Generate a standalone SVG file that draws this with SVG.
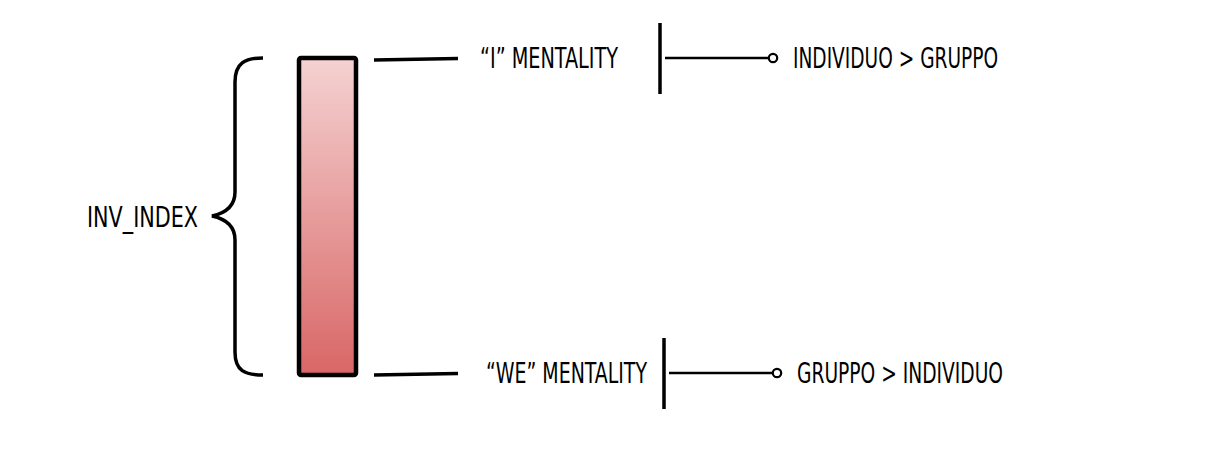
<svg xmlns="http://www.w3.org/2000/svg" width="1227" height="450" viewBox="0 0 1227 450">
<style>
.t{font-family:"DejaVu Sans Condensed","DejaVu Sans","Liberation Sans",sans-serif;font-size:28.5px;fill:#000}
.ln{stroke:#000;fill:none;stroke-linecap:butt}
</style>
<defs>
<linearGradient id="g" x1="0" y1="0" x2="0" y2="1">
<stop offset="0" stop-color="#f5d2d2"/>
<stop offset="1" stop-color="#d96666"/>
</linearGradient>
</defs>
<rect width="1227" height="450" fill="#fff"/>
<g id="bar">
<rect x="299" y="58" width="57" height="317" rx="2" fill="url(#g)" stroke="#000" stroke-width="4.5"/>
</g>
<g id="brace">
<path class="ln" stroke-width="3.5" d="M263,58 C245,58 235,63 235,82 L235,192 C235,206 226,213 212,216 C226,219 235,226 235,240 L235,352 C235,371 245,375 263,375"/>
<text class="t" x="87" y="227" textLength="111" lengthAdjust="spacingAndGlyphs">INV_INDEX</text>
</g>
<g id="connectors">
<line class="ln" x1="374" y1="60" x2="458" y2="58.5" stroke-width="3.5"/>
<line class="ln" x1="374" y1="375" x2="458" y2="373.5" stroke-width="3.5"/>
<line class="ln" x1="660" y1="23" x2="660" y2="94" stroke-width="3.5"/>
<line class="ln" x1="665" y1="58" x2="769" y2="58" stroke-width="2.5"/>
<circle cx="773" cy="58" r="4.2" fill="#fff" stroke="#000" stroke-width="2.2"/>
<line class="ln" x1="664" y1="338" x2="664" y2="409" stroke-width="3.5"/>
<line class="ln" x1="669" y1="373" x2="773" y2="373" stroke-width="2.5"/>
<circle cx="777" cy="373" r="4.2" fill="#fff" stroke="#000" stroke-width="2.2"/>
</g>
<g id="i-mentality">
<text class="t" x="480" y="68" textLength="138" lengthAdjust="spacingAndGlyphs">“I” MENTALITY</text>
</g>
<g id="we-mentality">
<text class="t" x="486" y="383" textLength="161" lengthAdjust="spacingAndGlyphs">“WE” MENTALITY</text>
</g>
<g id="individuo-gruppo">
<text class="t" x="793" y="68" textLength="205" lengthAdjust="spacingAndGlyphs">INDIVIDUO &gt; GRUPPO</text>
</g>
<g id="gruppo-individuo">
<text class="t" x="797" y="383" textLength="206" lengthAdjust="spacingAndGlyphs">GRUPPO &gt; INDIVIDUO</text>
</g>
</svg>
